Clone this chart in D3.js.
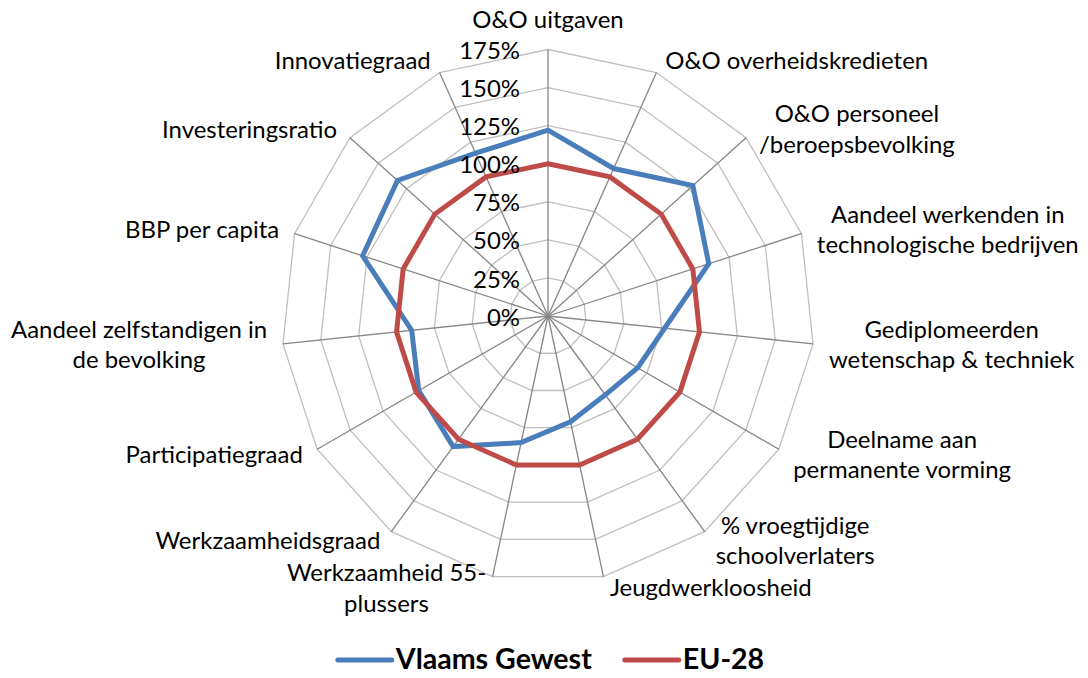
<!DOCTYPE html>
<html>
<head>
<meta charset="utf-8">
<script src="https://cdn.jsdelivr.net/npm/d3@7"></script>
<style>
  html, body { margin: 0; padding: 0; background: #fff; }
  text { font-family: Lato, "Open Sans", sans-serif; fill: #000; }
</style>
</head>
<body>
<div id="chart"></div>
<script>
// data
const categories = [
    "O&O uitgaven",
    "O&O overheidskredieten",
    "O&O personeel\n/beroepsbevolking",
    "Aandeel werkenden in\ntechnologische bedrijven",
    "Gediplomeerden\nwetenschap & techniek",
    "Deelname aan\npermanente vorming",
    "% vroegtijdige\nschoolverlaters",
    "Jeugdwerkloosheid",
    "Werkzaamheid 55-\nplussers",
    "Werkzaamheidsgraad",
    "Participatiegraad",
    "Aandeel zelfstandigen in\nde bevolking",
    "BBP per capita",
    "Investeringsratio",
    "Innovatiegraad"
]
const vlaamsGewest = [122, 106, 128, 111, 77, 68, 64, 71, 85, 106, 98, 90, 128, 133, 117]
const eu28         = [100, 100, 100, 100, 100, 100, 100, 100, 100, 100, 100, 100, 100, 100, 100]
const seriesNames  = ["Vlaams Gewest", "EU-28"]
const tickValues   = [0, 25, 50, 75, 100, 125, 150, 175]

const series = [
    {name: seriesNames[0], values: vlaamsGewest, color: "#4A7EBB"},
    {name: seriesNames[1], values: eu28, color: "#BE4B48"}
]

// const
const width = 1088
const height = 678
const cx = 548
const cy = 316
const R = 266.5

const svg = d3.select("#chart")
    .append("svg")
        .attr("width", width)
        .attr("height", height)

// font sizes so that text widths come close to the original Calibri
const probe = svg.append("text").style("font-size", "100px").text("O&O overheidskredieten")
const fontSize = 100 * 263 / probe.node().getComputedTextLength()
probe.style("font-weight", "bold").text("Vlaams Gewest")
const legendSize = 100 * 196 / probe.node().getComputedTextLength()
probe.remove()
const lineH = fontSize * 1.27

const r = d3.scaleLinear().domain([0, 175]).range([0, R])
const angle = d3.scaleLinear().domain([0, categories.length]).range([0, 2 * Math.PI])
const pt = (i, v) => [cx + r(v) * Math.sin(angle(i)), cy - r(v) * Math.cos(angle(i))]

const gridGroup = svg.append("g").attr("id", "gridGroup")

// rings
gridGroup.selectAll(".ring")
    .data(tickValues.filter(t => t > 0))
    .enter().append("polygon")
        .attr("class", "ring")
        .attr("points", t => categories.map((c, i) => pt(i, t).join(",")).join(" "))
        .attr("fill", "none")
        .attr("stroke", "#BFBFBF")
        .attr("stroke-width", 1.3)

// spokes
gridGroup.selectAll(".spoke")
    .data(categories)
    .enter().append("line")
        .attr("class", "spoke")
        .attr("x1", cx).attr("y1", cy)
        .attr("x2", (d, i) => pt(i, 175)[0])
        .attr("y2", (d, i) => pt(i, 175)[1])
        .attr("stroke", "#868686")
        .attr("stroke-width", 1.3)

// series
const line = d3.lineRadial()
    .angle((d, i) => angle(i))
    .radius(d => r(d))
    .curve(d3.curveLinearClosed)

svg.append("g")
    .attr("id", "elementGroup")
    .attr("transform", `translate(${cx}, ${cy})`)
    .selectAll("path")
    .data(series)
    .enter().append("path")
        .attr("d", d => line(d.values))
        .attr("fill", "none")
        .attr("stroke", d => d.color)
        .attr("stroke-width", 5)

// tick labels
svg.append("g").attr("id", "tickGroup")
    .selectAll("text")
    .data(tickValues)
    .enter().append("text")
        .attr("x", cx - 28)
        .attr("y", t => cy - r(t))
        .attr("dy", "0.4em")
        .attr("text-anchor", "end")
        .style("font-size", fontSize + "px")
        .text(t => t + "%")

// category labels
const labelGroup = svg.append("g").attr("id", "labelGroup")
categories.forEach((name, i) => {
    const lines = name.split("\n")
    const [ex, ey] = pt(i, 175)
    const s = Math.sin(angle(i))
    const c = Math.cos(angle(i))
    const g = labelGroup.append("g")
    const texts = g.selectAll("text")
        .data(lines)
        .enter().append("text")
            .attr("text-anchor", "middle")
            .attr("dy", "0.33em")
            .style("font-size", fontSize + "px")
            .text(d => d)
    const maxW = d3.max(texts.nodes(), n => n.getComputedTextLength())
    let bx, by
    if (Math.abs(s) < 0.1) {
        bx = ex
        by = ey - (lines.length * lineH / 2 + 14) * Math.sign(c)
    } else {
        bx = ex + Math.sign(s) * (4 + 12 * Math.abs(s) + maxW / 2)
        by = ey - c * 12
    }
    texts.attr("x", bx)
        .attr("y", (d, k) => by + (k - (lines.length - 1) / 2) * lineH)
})

// legend
const legendY = height - 18
const legend = svg.append("g").attr("id", "legendGroup")
const items = legend.selectAll("g")
    .data(series)
    .enter().append("g")
items.append("line")
    .attr("x1", 0).attr("x2", 54)
    .attr("y1", 0).attr("y2", 0)
    .attr("stroke", d => d.color)
    .attr("stroke-width", 5)
    .attr("stroke-linecap", "round")
items.append("text")
    .attr("x", 58)
    .attr("dy", "0.33em")
    .style("font-size", legendSize + "px")
    .style("font-weight", "bold")
    .text(d => d.name)
let xPos = 0
const offsets = []
items.each(function() {
    offsets.push(xPos)
    xPos += 58 + d3.select(this).select("text").node().getComputedTextLength() + 33
})
const total = xPos - 33
items.attr("transform", (d, i) => `translate(${551 - total / 2 + offsets[i]}, ${legendY})`)
</script>
</body>
</html>
